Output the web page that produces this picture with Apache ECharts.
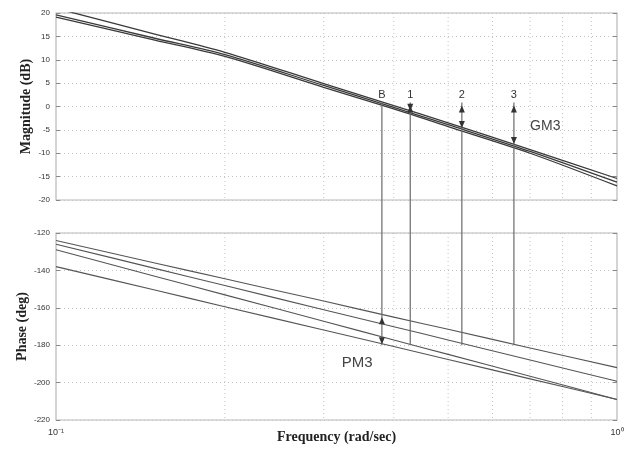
<!DOCTYPE html>
<html><head><meta charset="utf-8">
<script src="https://cdn.jsdelivr.net/npm/echarts@6/dist/echarts.min.js"></script>
<style>html,body{margin:0;padding:0;background:#fff}#c{width:624px;height:449px}</style>
</head><body><div id="c"></div>
<script>
// ---- data ----
const freqs = [0.1, 0.15, 0.2, 0.3, 0.4, 0.5, 0.7, 1.0];
const magSys1 = [21.0, 15.5, 11.6, 4.9, 0.2, -3.5, -9.2, -15.4];
const magSys2 = [19.6, 14.6, 11.1, 4.5, -0.2, -3.9, -9.6, -16.2];
const magSys3 = [19.1, 14.2, 10.7, 4.1, -0.5, -4.3, -10.0, -17.0];
const phaseA = [-124, -136, -144.5, -156.4, -165, -171.5, -181.5, -192];
const phaseB = [-126, -138.9, -148.1, -161, -170.1, -177.2, -187.9, -199.3];
const phaseC = [-129, -143.1, -153.1, -167.2, -177.2, -184.9, -196.6, -209];
const phaseD = [-138, -150.5, -159.4, -171.9, -180.7, -187.6, -198, -209];
const markerLabels = ['B', '1', '2', '3'];
const markerFreqs = [0.381, 0.428, 0.529, 0.655];
const markerMags = [0, -0.9, -4.6, -8.0];
const markerPhaseEnd = -180;
const pm3Freq = 0.381, pm3From = -165, pm3To = -180;
const gm3Text = 'GM3', gm3Pos = [0.70, -4.3];
const pm3Text = 'PM3', pm3Pos = [0.323, -189.5];
const magMin = -20, magMax = 20, magStep = 5;
const phaseMin = -220, phaseMax = -120, phaseStep = 20;
const freqMin = 0.1, freqMax = 1;
const minorGridFreqs = [0.2, 0.3, 0.4, 0.5, 0.6, 0.7, 0.8, 0.9];

// ---- layout ----
const L = 56, R = 7;
const topGrid = {left: L, right: R, top: 13, height: 187};
const botGrid = {left: L, right: R, top: 233, height: 187};
const GAP = botGrid.top - (topGrid.top + topGrid.height);
const LINE = '#3a3a3a', VLINE = '#6a6a6a', FRAME = '#b8b8b8', DOT = '#c4c4c4';
const SERIF = '"Liberation Serif", "DejaVu Serif", serif';
const SANS = '"Liberation Sans", Arial, sans-serif';

const pairs = (ys) => freqs.map((f, i) => [f, ys[i]]);

function head(x, y, dir) {
  return {type: 'polygon', shape: {points: [[x, y], [x - 3, y - dir * 7], [x + 3, y - dir * 7]]},
          style: {fill: '#333'}};
}

function yAxisBase(min, max, step, gridIndex, right) {
  return {
    type: 'value', gridIndex, min, max, interval: step, position: right ? 'right' : 'left',
    axisLine: {show: false},
    axisTick: {show: true, inside: true, length: 4, lineStyle: {color: '#888'}},
    axisLabel: {show: !right, fontSize: 8, color: '#333', fontFamily: SANS, margin: 6},
    splitLine: {show: !right, lineStyle: {color: DOT, type: [1, 3]}}
  };
}

function xAxisBase(gridIndex, showLabels) {
  return {
    type: 'log', logBase: 10, gridIndex, min: freqMin, max: freqMax,
    axisLine: {show: false}, axisTick: {show: false}, splitLine: {show: false},
    axisLabel: {
      show: showLabels, fontSize: 9, color: '#333', fontFamily: SANS, margin: 8,
      formatter: (v) => Math.abs(v - 0.1) < 1e-6 ? '10⁻¹' : (Math.abs(v - 1) < 1e-6 ? '10⁰' : '')
    },
    name: showLabels ? 'Frequency (rad/sec)' : '', nameLocation: 'middle', nameGap: 10,
    nameMoveOverlap: false,
    nameTextStyle: {fontFamily: SERIF, fontWeight: 'bold', fontSize: 14, color: '#222'}
  };
}

function minorGridSeries(xi, yi, yRef) {
  return {
    type: 'custom', xAxisIndex: xi, yAxisIndex: yi, silent: true, z: 1,
    data: minorGridFreqs.map(f => [f]),
    renderItem: (params, api) => {
      const cs = params.coordSys;
      const x = api.coord([api.value(0), yRef])[0];
      return {type: 'line', shape: {x1: x, y1: cs.y, x2: x, y2: cs.y + cs.height},
              style: {stroke: DOT, lineWidth: 1, lineDash: [1, 3]}};
    }
  };
}

const lineStyleMag = {color: LINE, width: 1.3};
const lineStylePh = {color: '#555', width: 1.1};
function lineSeries(data, xi, yi, ls) {
  return {type: 'line', xAxisIndex: xi, yAxisIndex: yi, data, showSymbol: false, symbol: 'none',
          smooth: 0.3, lineStyle: ls, itemStyle: {color: ls.color}, z: 3, clip: true, animation: false};
}

const gridCommon = {show: true, borderColor: FRAME, borderWidth: 1.2, containLabel: false, outerBoundsMode: 'none'};

const option = {
  animation: false,
  backgroundColor: '#fff',
  grid: [
    Object.assign({}, gridCommon, topGrid),
    Object.assign({}, gridCommon, botGrid)
  ],
  xAxis: [xAxisBase(0, false), xAxisBase(1, true)],
  yAxis: [
    Object.assign(yAxisBase(magMin, magMax, magStep, 0, false), {
      name: 'Magnitude (dB)', nameLocation: 'middle', nameGap: 23, nameMoveOverlap: false,
      nameTextStyle: {fontFamily: SERIF, fontWeight: 'bold', fontSize: 14, color: '#222'}}),
    yAxisBase(magMin, magMax, magStep, 0, true),
    Object.assign(yAxisBase(phaseMin, phaseMax, phaseStep, 1, false), {
      name: 'Phase (deg)', nameLocation: 'middle', nameGap: 27, nameMoveOverlap: false,
      nameTextStyle: {fontFamily: SERIF, fontWeight: 'bold', fontSize: 14, color: '#222'}}),
    yAxisBase(phaseMin, phaseMax, phaseStep, 1, true)
  ],
  series: [
    minorGridSeries(0, 0, 0),
    minorGridSeries(1, 2, -180),
    lineSeries(pairs(magSys1), 0, 0, lineStyleMag),
    lineSeries(pairs(magSys2), 0, 0, lineStyleMag),
    lineSeries(pairs(magSys3), 0, 0, lineStyleMag),
    lineSeries(pairs(phaseA), 1, 2, lineStylePh),
    lineSeries(pairs(phaseB), 1, 2, lineStylePh),
    lineSeries(pairs(phaseC), 1, 2, lineStylePh),
    lineSeries(pairs(phaseD), 1, 2, lineStylePh),
    {
      type: 'custom', xAxisIndex: 0, yAxisIndex: 0, clip: false, z: 5,
      data: markerFreqs.map((f, i) => [f, markerMags[i]]),
      renderItem: (params, api) => {
        const i = params.dataIndex;
        const cs = params.coordSys;
        const p0 = api.coord([api.value(0), 0]);
        const pm = api.coord([api.value(0), api.value(1)]);
        const children = [
          {type: 'line', shape: {x1: p0[0], y1: p0[1] - 4, x2: p0[0], y2: cs.y + cs.height + GAP},
           style: {stroke: VLINE, lineWidth: 1.2}},
          {type: 'text', style: {text: markerLabels[i], x: p0[0], y: p0[1] - 12, align: 'center',
            verticalAlign: 'middle', fontSize: 11, fontFamily: SANS, fill: '#333'}}
        ];
        if (markerLabels[i] !== 'B') {
          children.push(head(p0[0], p0[1] - 1, -1));
          children.push(head(pm[0], pm[1], 1));
        }
        return {type: 'group', children};
      }
    },
    {
      type: 'custom', xAxisIndex: 1, yAxisIndex: 2, clip: false, z: 5,
      data: markerFreqs.map(f => [f, markerPhaseEnd]),
      renderItem: (params, api) => {
        const cs = params.coordSys;
        const p = api.coord([api.value(0), api.value(1)]);
        return {type: 'line', shape: {x1: p[0], y1: cs.y, x2: p[0], y2: p[1]},
                style: {stroke: VLINE, lineWidth: 1.2}};
      }
    },
    {
      type: 'custom', xAxisIndex: 1, yAxisIndex: 2, clip: false, z: 6,
      data: [[pm3Freq, pm3From, pm3To]],
      renderItem: (params, api) => {
        const a = api.coord([api.value(0), api.value(1)]);
        const b = api.coord([api.value(0), api.value(2)]);
        return {type: 'group', children: [head(a[0], a[1], -1), head(b[0], b[1] - 1, 1)]};
      }
    },
    {
      type: 'custom', xAxisIndex: 0, yAxisIndex: 0, clip: false, z: 6,
      data: [gm3Pos],
      renderItem: (params, api) => {
        const p = api.coord([api.value(0), api.value(1)]);
        return {type: 'text', style: {text: gm3Text, x: p[0], y: p[1], align: 'left', verticalAlign: 'middle',
                fontSize: 14, fontFamily: SANS, fill: '#444'}};
      }
    },
    {
      type: 'custom', xAxisIndex: 1, yAxisIndex: 2, clip: false, z: 6,
      data: [pm3Pos],
      renderItem: (params, api) => {
        const p = api.coord([api.value(0), api.value(1)]);
        return {type: 'text', style: {text: pm3Text, x: p[0], y: p[1], align: 'left', verticalAlign: 'middle',
                fontSize: 15, fontFamily: SANS, fill: '#444'}};
      }
    }
  ]
};

const chart = echarts.init(document.getElementById('c'), null, {renderer: 'canvas'});
chart.setOption(option);
</script>
</body></html>
